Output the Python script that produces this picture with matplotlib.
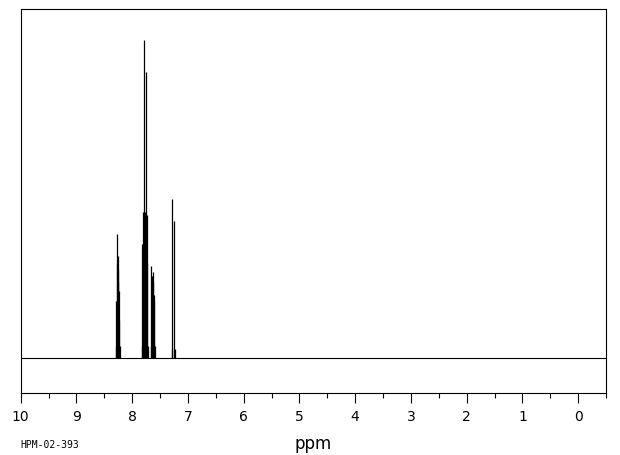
import matplotlib
matplotlib.use("Agg")
import matplotlib.pyplot as plt
from matplotlib.ticker import MultipleLocator

# Peak sticks (chemical shift in ppm, relative intensity)
shift_ppm = [8.295, 8.285, 8.275, 8.268, 8.262, 8.255, 8.248, 8.240, 8.232, 8.222,
             7.830, 7.816, 7.801, 7.792, 7.784, 7.775, 7.765, 7.753, 7.742, 7.730, 7.720,
             7.670, 7.658, 7.648, 7.640, 7.632, 7.622, 7.612, 7.604, 7.590,
             7.290, 7.281, 7.245, 7.237]
intensity = [4, 18, 39, 30, 32, 28, 24, 21, 12, 4,
             4, 36, 46, 45, 100, 46, 45, 90, 45, 30, 4,
             4, 29, 24, 26, 24, 27, 20, 18, 4,
             3, 50, 43, 3]

x_ticks = [10, 9, 8, 7, 6, 5, 4, 3, 2, 1, 0]
x_label = "ppm"
sample_id = "HPM-02-393"

fig = plt.figure(figsize=(6.2, 4.55), dpi=100)
ax = fig.add_axes([20.7 / 620, (455 - 392.7) / 455, (606 - 20.7) / 620, (392.7 - 9.3) / 455])

ax.axhline(0, color="black", lw=0.8)
ax.vlines(shift_ppm, 0, intensity, color="black", lw=0.9)

ax.set_xlim(10, -0.5)
ax.set_ylim(-10.8, 109.6)

ax.set_xticks(x_ticks)
ax.set_xticklabels([str(t) for t in x_ticks])
ax.xaxis.set_minor_locator(MultipleLocator(0.5))
ax.tick_params(axis="x", which="major", direction="out", length=7.2, width=0.8,
               pad=5.0, labelsize=10)
ax.tick_params(axis="x", which="minor", direction="out", length=3.6, width=0.8)
ax.tick_params(axis="y", left=False, labelleft=False)
for s in ax.spines.values():
    s.set_linewidth(0.8)

fig.text(313 / 620, 1 - 444 / 455, x_label, ha="center", va="center", fontsize=12)
fig.text(20 / 620, 1 - 445 / 455, sample_id, ha="left", va="center", fontsize=7,
         family="DejaVu Sans Mono")

fig.savefig("out.png", dpi=100)
